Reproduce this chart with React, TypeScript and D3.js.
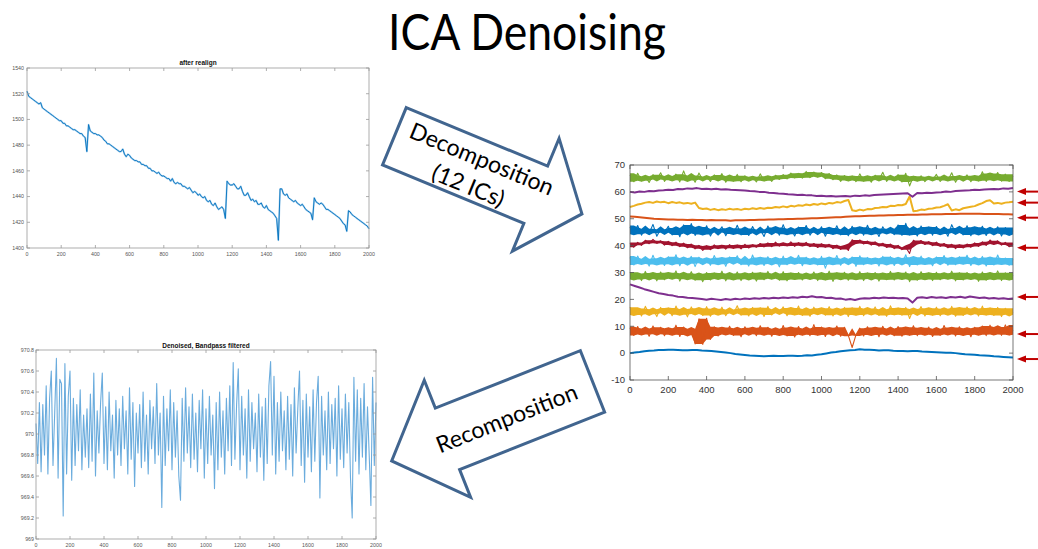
import React from "react";
import * as d3 from "d3";

const W = 1038;
const H = 549;

// ---------- "after realign" raw signal (sample 0..2000, every 10 samples) ----------
const realignValues = [
  1522, 1518, 1517, 1516, 1515, 1514, 1513, 1512, 1513, 1509,
  1508, 1507, 1506, 1505, 1504, 1503, 1502, 1501, 1500, 1499,
  1499, 1497, 1497, 1495, 1495, 1494, 1493, 1492, 1492, 1491,
  1490, 1489, 1489, 1487, 1486, 1475, 1496, 1491, 1490, 1489,
  1489, 1488, 1488, 1487, 1486, 1484, 1483, 1481, 1481, 1480,
  1479, 1478, 1477, 1476, 1475, 1475, 1477, 1473, 1471, 1473,
  1472, 1470, 1469, 1468, 1468, 1467, 1467, 1465, 1465, 1464,
  1464, 1462, 1462, 1460, 1460, 1459, 1458, 1459, 1457, 1456,
  1456, 1455, 1454, 1454, 1452, 1454, 1451, 1450, 1451, 1450,
  1450, 1448, 1448, 1447, 1446, 1447, 1445, 1443, 1444, 1443,
  1441, 1442, 1440, 1439, 1440, 1437, 1436, 1437, 1434, 1433,
  1435, 1432, 1430, 1431, 1432, 1430, 1423, 1452, 1450, 1449,
  1449, 1450, 1448, 1446, 1446, 1448, 1444, 1441, 1441, 1443,
  1440, 1437, 1438, 1436, 1437, 1434, 1434, 1435, 1432, 1431,
  1433, 1430, 1429, 1428, 1427, 1425, 1423, 1406, 1446, 1446,
  1442, 1441, 1442, 1439, 1438, 1437, 1436, 1437, 1435, 1434,
  1433, 1434, 1432, 1430, 1429, 1428, 1427, 1422, 1439, 1436,
  1435, 1434, 1435, 1434, 1432, 1430, 1430, 1429, 1428, 1427,
  1426, 1425, 1424, 1423, 1421, 1419, 1418, 1413, 1429, 1428,
  1426, 1425, 1424, 1423, 1422, 1421, 1420, 1419, 1418, 1417,
  1415,
];

// ---------- "Denoised, Bandpass filtered" signal (every 10 samples) ----------
const bandpassValues = [
  970.10, 969.72, 970.30, 969.64, 970.28, 969.80, 970.46, 969.62, 970.34, 970.60,
  969.70, 970.20, 970.72, 969.58, 970.52, 970.48, 969.22, 970.67, 969.62, 970.36,
  970.60, 969.56, 970.34, 969.70, 970.28, 969.84, 970.42, 969.66, 970.18, 969.78,
  970.24, 969.68, 970.38, 969.74, 970.58, 969.60, 970.22, 969.82, 970.30, 970.58,
  969.72, 970.26, 969.66, 970.40, 969.84, 970.18, 969.58, 970.32, 969.80, 970.24,
  969.70, 970.36, 969.86, 970.22, 969.62, 970.44, 969.76, 970.30, 969.50, 970.20,
  969.82, 970.28, 969.68, 970.40, 969.74, 970.18, 969.62, 970.32, 969.86, 970.26,
  969.72, 970.48, 969.80, 970.20, 969.30, 970.36, 969.70, 970.24, 969.84, 970.42,
  969.66, 970.30, 969.78, 970.22, 969.60, 969.37, 970.34, 969.74, 970.44, 969.82,
  970.26, 969.68, 970.38, 969.76, 970.20, 969.64, 970.32, 969.86, 970.42, 969.58,
  970.24, 969.72, 970.36, 969.80, 970.18, 969.48, 970.30, 969.66, 970.40, 969.78,
  970.22, 969.62, 970.34, 969.84, 970.46, 969.70, 970.68, 969.76, 970.28, 970.62,
  969.66, 970.36, 969.80, 970.24, 969.58, 970.42, 969.74, 970.30, 969.86, 970.20,
  969.64, 970.38, 969.78, 970.26, 969.56, 970.34, 969.72, 970.46, 970.69, 969.80,
  970.55, 969.62, 970.30, 969.74, 970.40, 969.84, 970.22, 969.66, 970.36, 969.76,
  970.28, 969.60, 970.44, 969.82, 970.24, 970.60, 969.70, 970.32, 969.54, 970.38,
  969.78, 970.26, 969.64, 970.42, 969.74, 970.30, 970.55, 969.39, 970.36, 969.80,
  970.22, 969.66, 970.40, 969.72, 970.28, 969.86, 970.34, 969.60, 970.46, 969.76,
  970.24, 969.68, 970.38, 969.82, 970.30, 969.58, 969.20, 970.54, 969.74, 970.42,
  969.62, 970.34, 969.78, 970.48, 969.66, 970.26, 969.80, 969.32, 970.54, 969.70,
  970.30,
];

// ---------- 12 independent components, stacked with offsets (bottom to top) ----------
const ic01 = [
  0.0, 0.2, 0.4, 0.7, 0.9, 1.0, 1.2, 1.2, 1.3, 1.3,
  1.2, 1.1, 1.1, 1.2, 1.2, 1.0, 0.9, 0.8, 0.6, 0.4,
  0.2, 0.0, -0.3, -0.5, -0.7, -0.9, -1.0, -1.1, -1.2, -1.1,
  -1.0, -1.1, -1.1, -1.0, -1.0, -1.1, -1.0, -0.8, -0.9, -0.6,
  -0.4, -0.1, 0.2, 0.4, 0.7, 0.9, 1.1, 1.2, 1.4, 1.3,
  1.3, 1.2, 1.0, 1.1, 1.1, 0.9, 0.8, 0.8, 0.7, 0.8,
  0.8, 0.6, 0.5, 0.4, 0.3, 0.2, 0.1, 0.1, 0.0, -0.2,
  -0.4, -0.5, -0.6, -0.8, -0.9, -1.0, -1.2, -1.3, -1.4, -1.5,
  -1.6,
];
const ic02 = [
  9.4, 6.6, 9.9, 6.9, 9.2, 6.3, 10.1, 7.0, 9.6, 6.5,
  9.3, 6.8, 10.4, 6.2, 9.7, 6.7, 9.1, 3.4, 12.8, 3.2,
  13.0, 5.1, 9.8, 6.4, 9.5, 6.9, 10.0, 6.6, 9.3, 6.1,
  9.8, 7.0, 9.4, 6.5, 10.2, 6.8, 9.6, 6.3, 9.1, 6.7,
  10.3, 6.4, 9.5, 6.0, 9.9, 6.8, 9.2, 6.5, 10.6, 6.7,
  9.7, 6.2, 9.4, 6.9, 10.1, 6.3, 9.6, 6.6, 2.1, 6.8,
  9.3, 6.4, 9.8, 6.7, 9.5, 6.1, 10.0, 6.9, 9.2, 6.5,
  9.9, 6.3, 9.6, 6.7, 10.2, 6.5, 9.4, 6.8, 9.7, 6.2,
  9.1, 6.6, 10.3, 6.9, 9.5, 6.4, 9.8, 6.7, 9.3, 6.1,
  9.6, 6.8, 10.1, 6.5, 10.4, 6.9, 9.7, 6.6, 10.5, 6.8,
  8.6,
];
const ic03 = [
  17.1, 14.2, 16.6, 13.8, 17.4, 14.5, 16.3, 13.6, 17.0, 14.8,
  16.8, 13.9, 17.5, 14.3, 16.4, 13.5, 17.2, 14.6, 16.7, 14.0,
  17.3, 13.7, 16.5, 14.4, 17.1, 13.9, 16.2, 14.7, 17.6, 14.1,
  16.6, 13.8, 17.0, 14.5, 16.9, 13.6, 17.4, 14.2, 16.3, 14.8,
  17.2, 13.9, 16.8, 14.3, 17.5, 14.0, 16.4, 13.7, 17.1, 14.6,
  16.7, 14.1, 17.3, 13.8, 16.5, 14.4, 17.0, 13.6, 16.9, 14.2,
  17.4, 13.9, 16.6, 14.5, 17.2, 14.0, 16.3, 13.7, 17.6, 14.3,
  16.8, 14.1, 17.0, 12.9, 16.4, 14.6, 17.3, 13.8, 16.7, 14.2,
  17.1, 13.9, 16.5, 14.4, 17.4, 13.7, 16.9, 14.0, 17.2, 14.5,
  16.6, 13.8, 17.5, 14.2, 16.8, 14.0, 17.0, 13.6, 16.7, 14.3,
  15.4,
];
const ic04 = [
  25.6, 25.0, 24.4, 23.8, 23.3, 22.8, 22.3, 22.0, 21.6, 21.4,
  21.0, 20.9, 20.6, 20.5, 20.3, 20.1, 19.9, 20.2, 20.0, 19.8,
  20.1, 19.9, 20.2, 20.0, 20.3, 20.1, 20.4, 20.2, 20.5, 20.3,
  20.6, 20.4, 20.7, 20.5, 20.8, 20.6, 21.0, 20.8, 21.2, 20.8,
  20.9, 20.5, 20.6, 20.2, 20.3, 19.9, 20.1, 19.8, 20.2, 20.4,
  20.3, 20.6, 20.4, 20.7, 20.5, 20.6, 20.4, 20.5, 20.3, 18.8,
  20.6, 20.8, 20.5, 20.9, 20.6, 20.8, 20.5, 20.9, 20.7, 21.0,
  20.6, 21.1, 20.8, 20.5, 20.7, 20.3, 20.5, 20.2, 20.4, 20.1,
  20.3,
];
const ic05 = [
  30.1, 27.4, 29.6, 27.0, 30.4, 27.6, 29.8, 26.9, 30.2, 27.3,
  29.9, 27.7, 30.6, 26.8, 29.7, 27.5, 30.3, 27.1, 29.5, 26.6,
  30.0, 27.2, 29.8, 27.6, 30.5, 26.9, 29.6, 27.4, 30.2, 27.0,
  29.7, 27.5, 30.1, 26.8, 29.9, 27.3, 30.4, 27.7, 29.6, 27.1,
  30.3, 26.9, 29.8, 27.4, 30.0, 27.2, 29.5, 27.6, 30.2, 27.0,
  29.7, 27.3, 30.5, 26.7, 29.9, 27.5, 30.1, 27.1, 29.6, 27.4,
  30.3, 27.0, 29.8, 27.6, 30.0, 26.8, 29.7, 27.3, 30.4, 27.2,
  29.9, 27.5, 30.2, 26.6, 29.6, 27.1, 30.3, 27.4, 29.8, 27.0,
  30.1, 27.3, 29.7, 27.6, 30.5, 26.9, 29.9, 27.2, 30.0, 27.5,
  29.6, 26.7, 30.2, 27.1, 29.8, 27.4, 30.6, 27.0, 29.9, 27.3,
  28.9,
];
const ic06 = [
  35.6, 32.8, 36.1, 33.2, 35.1, 32.4, 36.4, 33.0, 35.3, 32.6,
  35.9, 33.1, 36.6, 32.5, 35.4, 33.3, 36.0, 32.2, 35.7, 33.4,
  35.2, 32.7, 36.3, 33.1, 35.5, 32.3, 35.8, 33.5, 36.2, 32.9,
  35.0, 32.4, 36.5, 33.0, 35.6, 32.6, 35.9, 33.2, 35.3, 32.1,
  36.1, 32.9, 35.4, 33.3, 36.4, 32.5, 35.7, 33.1, 35.2, 32.8,
  36.0, 31.6, 35.5, 33.0, 36.3, 32.7, 35.1, 33.4, 35.8, 32.3,
  36.2, 32.9, 35.6, 33.2, 35.3, 32.4, 36.0, 33.1, 35.9, 32.6,
  35.4, 33.3, 36.6, 32.2, 35.7, 32.8, 36.1, 33.0, 35.2, 32.5,
  35.8, 33.4, 36.3, 32.7, 35.5, 32.9, 35.9, 33.2, 36.4, 32.6,
  35.3, 33.1, 36.0, 32.4, 35.6, 32.8, 36.5, 33.0, 35.4, 32.7,
  34.9,
];
const ic07 = [
  40.8, 39.4, 41.2, 40.1, 42.0, 40.7, 42.3, 40.9, 41.8, 40.2,
  41.6, 40.0, 41.3, 39.6, 40.9, 39.2, 40.6, 38.8, 40.1, 38.2,
  39.9, 38.5, 40.3, 38.9, 40.1, 38.7, 40.4, 39.0, 40.2, 38.8,
  40.5, 39.1, 40.3, 39.4, 40.8, 39.5, 41.0, 39.6, 41.3, 39.8,
  40.9, 39.9, 41.4, 39.7, 41.1, 40.0, 41.2, 39.6, 40.8, 39.3,
  40.7, 39.4, 40.5, 38.9, 40.2, 38.6, 39.9, 38.2, 42.2, 40.8,
  42.1, 40.6, 41.7, 40.2, 41.4, 39.8, 40.9, 39.3, 40.6, 38.9,
  40.1, 38.5, 39.4, 37.1, 42.0, 40.7, 41.9, 40.4, 41.5, 40.0,
  41.3, 39.7, 40.8, 39.2, 40.5, 38.9, 40.3, 39.1, 40.6, 39.4,
  41.0, 39.7, 41.4, 40.1, 42.1, 40.6, 41.8, 40.2, 41.2, 39.6,
  40.6,
];
const ic08 = [
  46.8, 44.2, 47.5, 43.9, 46.3, 44.6, 47.9, 43.5, 46.1, 44.8,
  47.2, 44.0, 46.6, 43.3, 47.7, 44.5, 48.2, 43.8, 46.9, 44.1,
  47.4, 43.6, 46.2, 44.9, 47.0, 43.7, 46.5, 44.3, 47.6, 44.0,
  46.4, 43.8, 47.1, 44.6, 46.0, 43.4, 47.3, 44.7, 46.7, 43.9,
  47.8, 44.2, 46.3, 43.6, 46.9, 44.4, 47.5, 43.9, 46.2, 44.8,
  47.0, 43.5, 46.6, 44.3, 47.4, 44.0, 46.1, 43.7, 47.2, 44.5,
  46.8, 43.9, 47.6, 44.2, 46.4, 43.4, 47.0, 44.6, 46.3, 44.1,
  47.7, 43.8, 48.3, 44.0, 46.5, 43.6, 47.3, 44.4, 46.9, 43.9,
  47.1, 44.3, 46.2, 43.5, 47.8, 44.7, 46.6, 44.0, 47.4, 43.7,
  46.8, 44.2, 47.2, 43.8, 46.4, 44.5, 47.0, 43.6, 46.7, 44.1,
  45.6,
];
const ic09 = [
  50.8, 50.7, 50.6, 50.4, 50.2, 50.0, 49.9, 49.8, 49.7, 49.7,
  49.6, 49.6, 49.5, 49.6, 49.5, 49.5, 49.4, 49.5, 49.4, 49.4,
  49.4, 49.3, 49.4, 49.4, 49.4, 49.5, 49.5, 49.6, 49.6, 49.7,
  49.7, 49.8, 49.8, 49.9, 49.9, 50.0, 50.0, 50.1, 50.2, 50.2,
  50.3, 50.4, 50.5, 50.6, 50.6, 50.7, 50.8, 50.9, 50.9, 51.0,
  51.1, 51.1, 51.2, 51.2, 51.3, 51.3, 51.4, 51.4, 51.5, 51.5,
  51.5, 51.6, 51.6, 51.7, 51.7, 51.7, 51.8, 51.8, 51.8, 51.9,
  51.9, 51.9, 51.9, 51.9, 51.8, 51.8, 51.8, 51.8, 51.7, 51.7,
  51.6,
];
const ic10 = [
  54.4, 54.8, 55.3, 55.6, 56.0, 56.2, 55.9, 56.4, 56.1, 56.3,
  55.8, 56.2, 55.9, 56.1, 55.7, 55.9, 55.6, 56.0, 54.0, 53.6,
  53.8, 53.3, 53.6, 53.2, 53.5, 53.3, 53.7, 53.4, 53.6, 53.3,
  53.7, 53.5, 53.9, 53.6, 54.0, 53.7, 54.1, 54.0, 54.4, 54.2,
  54.6, 54.3, 54.8, 54.6, 55.0, 54.8, 55.3, 55.0, 55.5, 55.2,
  55.7, 55.4, 55.9, 55.7, 56.2, 56.0, 56.6, 57.0, 53.2, 52.9,
  53.4, 53.1, 53.6, 53.5, 54.0, 54.1, 54.4, 54.3, 54.8, 54.7,
  55.1, 55.0, 55.5, 58.3, 52.8, 53.0, 53.4, 53.3, 53.7, 53.8,
  54.2, 54.3, 54.8, 55.4, 53.1, 53.5, 53.2, 53.9, 54.2, 54.5,
  54.7, 55.3, 55.8, 56.6, 56.9, 55.7, 55.9, 55.6, 56.0, 56.1,
  56.3,
];
const ic11 = [
  60.0, 59.8, 60.1, 60.0, 60.3, 60.2, 60.5, 60.6, 60.8, 60.7,
  61.1, 61.0, 61.3, 61.2, 61.4, 61.1, 61.2, 61.0, 61.2, 60.9,
  61.0, 60.8, 60.7, 60.6, 60.5, 60.3, 60.2, 60.0, 60.0, 59.7,
  59.6, 59.4, 59.3, 59.1, 59.0, 58.8, 58.9, 58.7, 58.7, 58.5,
  58.6, 58.4, 58.5, 58.3, 58.4, 58.5, 58.3, 58.6, 58.5, 58.7,
  58.6, 58.8, 58.9, 59.0, 59.1, 59.2, 59.3, 59.4, 59.5, 58.2,
  59.6, 59.5, 59.7, 59.6, 59.8, 59.9, 60.1, 60.0, 60.3, 60.4,
  60.5, 60.6, 60.8, 60.7, 60.9, 61.0, 61.1, 61.0, 61.3, 61.2,
  61.4,
];
const ic12 = [
  66.2, 63.8, 66.9, 64.1, 65.8, 63.5, 66.4, 64.6, 67.1, 63.9,
  65.9, 64.3, 66.6, 63.7, 67.8, 64.2, 66.1, 63.6, 67.0, 64.5,
  65.7, 63.9, 66.3, 64.4, 66.8, 63.6, 65.9, 64.0, 66.5, 63.8,
  66.0, 64.3, 65.6, 63.7, 66.7, 64.1, 65.8, 63.9, 66.2, 64.6,
  66.4, 64.8, 67.0, 65.2, 66.9, 65.1, 67.6, 65.3, 67.4, 65.6,
  67.2, 64.9, 66.8, 64.5, 66.3, 63.9, 66.1, 64.2, 65.9, 63.8,
  66.7, 64.0, 65.8, 63.6, 66.2, 64.4, 67.3, 63.9, 65.7, 64.3,
  66.4, 63.7, 66.9, 62.2, 65.8, 64.1, 66.0, 63.8, 65.6, 64.4,
  66.5, 63.9, 65.7, 64.2, 67.1, 63.6, 65.9, 64.5, 66.3, 63.8,
  66.0, 64.1, 67.5, 63.9, 66.8, 64.3, 67.2, 64.0, 66.6, 63.9,
  65.8,
];

const icSeries = [ic01, ic02, ic03, ic04, ic05, ic06, ic07, ic08, ic09, ic10, ic11, ic12];
// MATLAB default colour order, cycled
const icColors = [
  "#0072BD", "#D95319", "#EDB120", "#7E2F8E", "#77AC30", "#4DBEEE", "#A2142F",
  "#0072BD", "#D95319", "#EDB120", "#7E2F8E", "#77AC30",
];
// components dominated by fast fluctuation: drawn as a dense trace
const noisyComponents = [1, 2, 4, 5, 6, 7, 11];
// components whose trend is flagged as noise (levels where the markers point)
const flaggedLevels = [60.1, 56.0, 50.4, 39.2, 20.9, 7.1, -2.2];

const sampleTicks = [0, 200, 400, 600, 800, 1000, 1200, 1400, 1600, 1800, 2000];
const realignTicks = [1400, 1420, 1440, 1460, 1480, 1500, 1520, 1540];
const bandpassTicks = [969, 969.2, 969.4, 969.6, 969.8, 970, 970.2, 970.4, 970.6, 970.8];
const icTicks = [-10, 0, 10, 20, 30, 40, 50, 60, 70];

const LABEL_FONT = "'Liberation Sans', Arial, sans-serif";
const SLIDE_FONT = "Lato, 'Open Sans', sans-serif";

type Scale = d3.ScaleLinear<number, number>;

type FrameProps = {
  xs: Scale;
  ys: Scale;
  xTicks: number[];
  yTicks: number[];
  tickLen: number;
  fontSize: number;
  labelColor: string;
  frameColor: string;
  xLabelDy: number;
  yLabelDx: number;
};

function Frame({ xs, ys, xTicks, yTicks, tickLen, fontSize, labelColor, frameColor, xLabelDy, yLabelDx }: FrameProps) {
  const [x0, x1] = xs.range();
  const [yb, yt] = ys.range();
  const fmt = (v: number) => String(+v.toFixed(1));
  return (
    <g>
      <rect x={x0} y={yt} width={x1 - x0} height={yb - yt} fill="none" stroke={frameColor} strokeWidth={0.8} />
      {xTicks.map((t) => (
        <g key={"x" + t}>
          <line x1={xs(t)} x2={xs(t)} y1={yb} y2={yb - tickLen} stroke={frameColor} strokeWidth={0.8} />
          <line x1={xs(t)} x2={xs(t)} y1={yt} y2={yt + tickLen} stroke={frameColor} strokeWidth={0.8} />
          <text x={xs(t)} y={yb + xLabelDy} fontSize={fontSize} fill={labelColor} textAnchor="middle" fontFamily={LABEL_FONT}>
            {fmt(t)}
          </text>
        </g>
      ))}
      {yTicks.map((t) => (
        <g key={"y" + t}>
          <line x1={x0} x2={x0 + tickLen} y1={ys(t)} y2={ys(t)} stroke={frameColor} strokeWidth={0.8} />
          <line x1={x1} x2={x1 - tickLen} y1={ys(t)} y2={ys(t)} stroke={frameColor} strokeWidth={0.8} />
          <text x={x0 - yLabelDx} y={ys(t)} dy="0.35em" fontSize={fontSize} fill={labelColor} textAnchor="end" fontFamily={LABEL_FONT}>
            {fmt(t)}
          </text>
        </g>
      ))}
    </g>
  );
}

function seriesPath(values: number[], xs: Scale, ys: Scale) {
  const step = 2000 / (values.length - 1);
  return (
    d3
      .line<number>()
      .x((_, i) => xs(i * step))
      .y((d) => ys(d))(values) || ""
  );
}

// Filled core of a fast-fluctuating trace (what a 2000-sample trace fills on
// screen). Second-smallest / second-largest value in a 5-sample window, so that
// single-sample spikes stay thin and are drawn by the trace line only.
function hullPath(values: number[], xs: Scale, ys: Scale) {
  const step = 2000 / (values.length - 1);
  const n = values.length;
  const bounds = values.map((_, i) => {
    const w = values.slice(Math.max(0, i - 2), Math.min(n, i + 3)).sort((a, b) => a - b);
    return w.length < 5 ? [w[0], w[w.length - 1]] : [w[1], w[3]];
  });
  return (
    d3
      .area<number[]>()
      .x((_, i) => xs(i * step))
      .y0((d) => ys(d[0]))
      .y1((d) => ys(d[1]))(bounds) || ""
  );
}

function BlockArrow({ cx, cy, angle, len, bodyHalf, headHalf, headLen }: { cx: number; cy: number; angle: number; len: number; bodyHalf: number; headHalf: number; headLen: number }) {
  const b = len - headLen;
  const pts = [
    [0, -bodyHalf], [b, -bodyHalf], [b, -headHalf], [len, 0], [b, headHalf], [b, bodyHalf], [0, bodyHalf],
  ].map((p) => p.join(",")).join(" ");
  return (
    <polygon
      points={pts}
      transform={`translate(${cx},${cy}) rotate(${angle})`}
      fill="#ffffff"
      stroke="#41658F"
      strokeWidth={3}
      strokeLinejoin="miter"
    />
  );
}

export default function App() {
  // raw signal panel
  const xsA = d3.scaleLinear().domain([0, 2000]).range([27, 369]);
  const ysA = d3.scaleLinear().domain([1400, 1540]).range([248, 68]);
  // denoised panel
  const xsB = d3.scaleLinear().domain([0, 2000]).range([36, 376]);
  const ysB = d3.scaleLinear().domain([969, 970.8]).range([539, 350]);
  // components panel
  const xsC = d3.scaleLinear().domain([0, 2000]).range([630, 1013]);
  const ysC = d3.scaleLinear().domain([-10, 70]).range([380, 165]);

  return (
    <svg
      width={W}
      height={H}
      viewBox={`0 0 ${W} ${H}`}
      style={{ position: "absolute", left: 0, top: 0, background: "#ffffff" }}
    >
      <rect x={0} y={0} width={W} height={H} fill="#ffffff" />

      {/* slide title */}
      <text x={527} y={50} fontSize={50} fontFamily={SLIDE_FONT} textAnchor="middle" fill="#000" textLength={278} lengthAdjust="spacingAndGlyphs">
        ICA Denoising
      </text>

      {/* after realign */}
      <text x={198} y={64.5} fontSize={6.5} fontWeight="bold" textAnchor="middle" fontFamily={LABEL_FONT} fill="#111">
        after realign
      </text>
      <path d={seriesPath(realignValues, xsA, ysA)} fill="none" stroke="#a9d0ee" strokeWidth={1.8} strokeLinejoin="round" />
      <path d={seriesPath(realignValues, xsA, ysA)} fill="none" stroke="#0072BD" strokeWidth={0.9} strokeLinejoin="round" />
      <Frame xs={xsA} ys={ysA} xTicks={sampleTicks} yTicks={realignTicks} tickLen={3} fontSize={5.3} labelColor="#555" frameColor="#9a9a9a" xLabelDy={7.5} yLabelDx={3} />

      {/* denoised, bandpass filtered */}
      <text x={206} y={348} fontSize={6.5} fontWeight="bold" textAnchor="middle" fontFamily={LABEL_FONT} fill="#111">
        Denoised, Bandpass filtered
      </text>
      <path d={seriesPath(bandpassValues, xsB, ysB)} fill="none" stroke="#3a90d2" strokeOpacity={0.75} strokeWidth={1.1} strokeLinejoin="round" />
      <Frame xs={xsB} ys={ysB} xTicks={sampleTicks} yTicks={bandpassTicks} tickLen={3} fontSize={5.3} labelColor="#555" frameColor="#9a9a9a" xLabelDy={7.5} yLabelDx={2} />

      {/* stacked components */}
      {icSeries.map((vals, k) => {
        const noisy = noisyComponents.includes(k);
        return (
          <g key={k}>
            {noisy && <path d={hullPath(vals, xsC, ysC)} fill={icColors[k]} stroke="none" />}
            <path
              d={seriesPath(vals, xsC, ysC)}
              fill="none"
              stroke={icColors[k]}
              strokeWidth={noisy ? 1.1 : 2}
              strokeLinejoin="round"
            />
          </g>
        );
      })}
      <Frame xs={xsC} ys={ysC} xTicks={sampleTicks} yTicks={icTicks} tickLen={4} fontSize={9.5} labelColor="#333" frameColor="#555" xLabelDy={13} yLabelDx={5} />

      {/* flag markers */}
      {flaggedLevels.map((v) => {
        const y = ysC(v);
        return (
          <g key={"f" + v}>
            <line x1={1024} x2={1038} y1={y} y2={y} stroke="#C00000" strokeWidth={2} />
            <polygon points={`1017,${y} 1026,${y - 3.5} 1026,${y + 3.5}`} fill="#C00000" />
          </g>
        );
      })}

      {/* decomposition arrow */}
      <BlockArrow cx={394.4} cy={136.2} angle={22.5} len={203} bodyHalf={31} headHalf={61} headLen={50} />
      <text transform="translate(481.7,159) rotate(22.5)" fontSize={23} fontFamily={SLIDE_FONT} textAnchor="middle" dy="0.35em" fill="#000">
        Decomposition
      </text>
      <text transform="translate(468.3,185.7) rotate(22.5)" fontSize={23} fontFamily={SLIDE_FONT} textAnchor="middle" dy="0.35em" fill="#000">
        (12 ICs)
      </text>

      {/* recomposition arrow */}
      <BlockArrow cx={592.5} cy={381.4} angle={158.4} len={216} bodyHalf={33} headHalf={63} headLen={60} />
      <text transform="translate(506.7,418.3) rotate(-21.6)" fontSize={23} fontFamily={SLIDE_FONT} textAnchor="middle" dy="0.35em" fill="#000">
        Recomposition
      </text>
    </svg>
  );
}
